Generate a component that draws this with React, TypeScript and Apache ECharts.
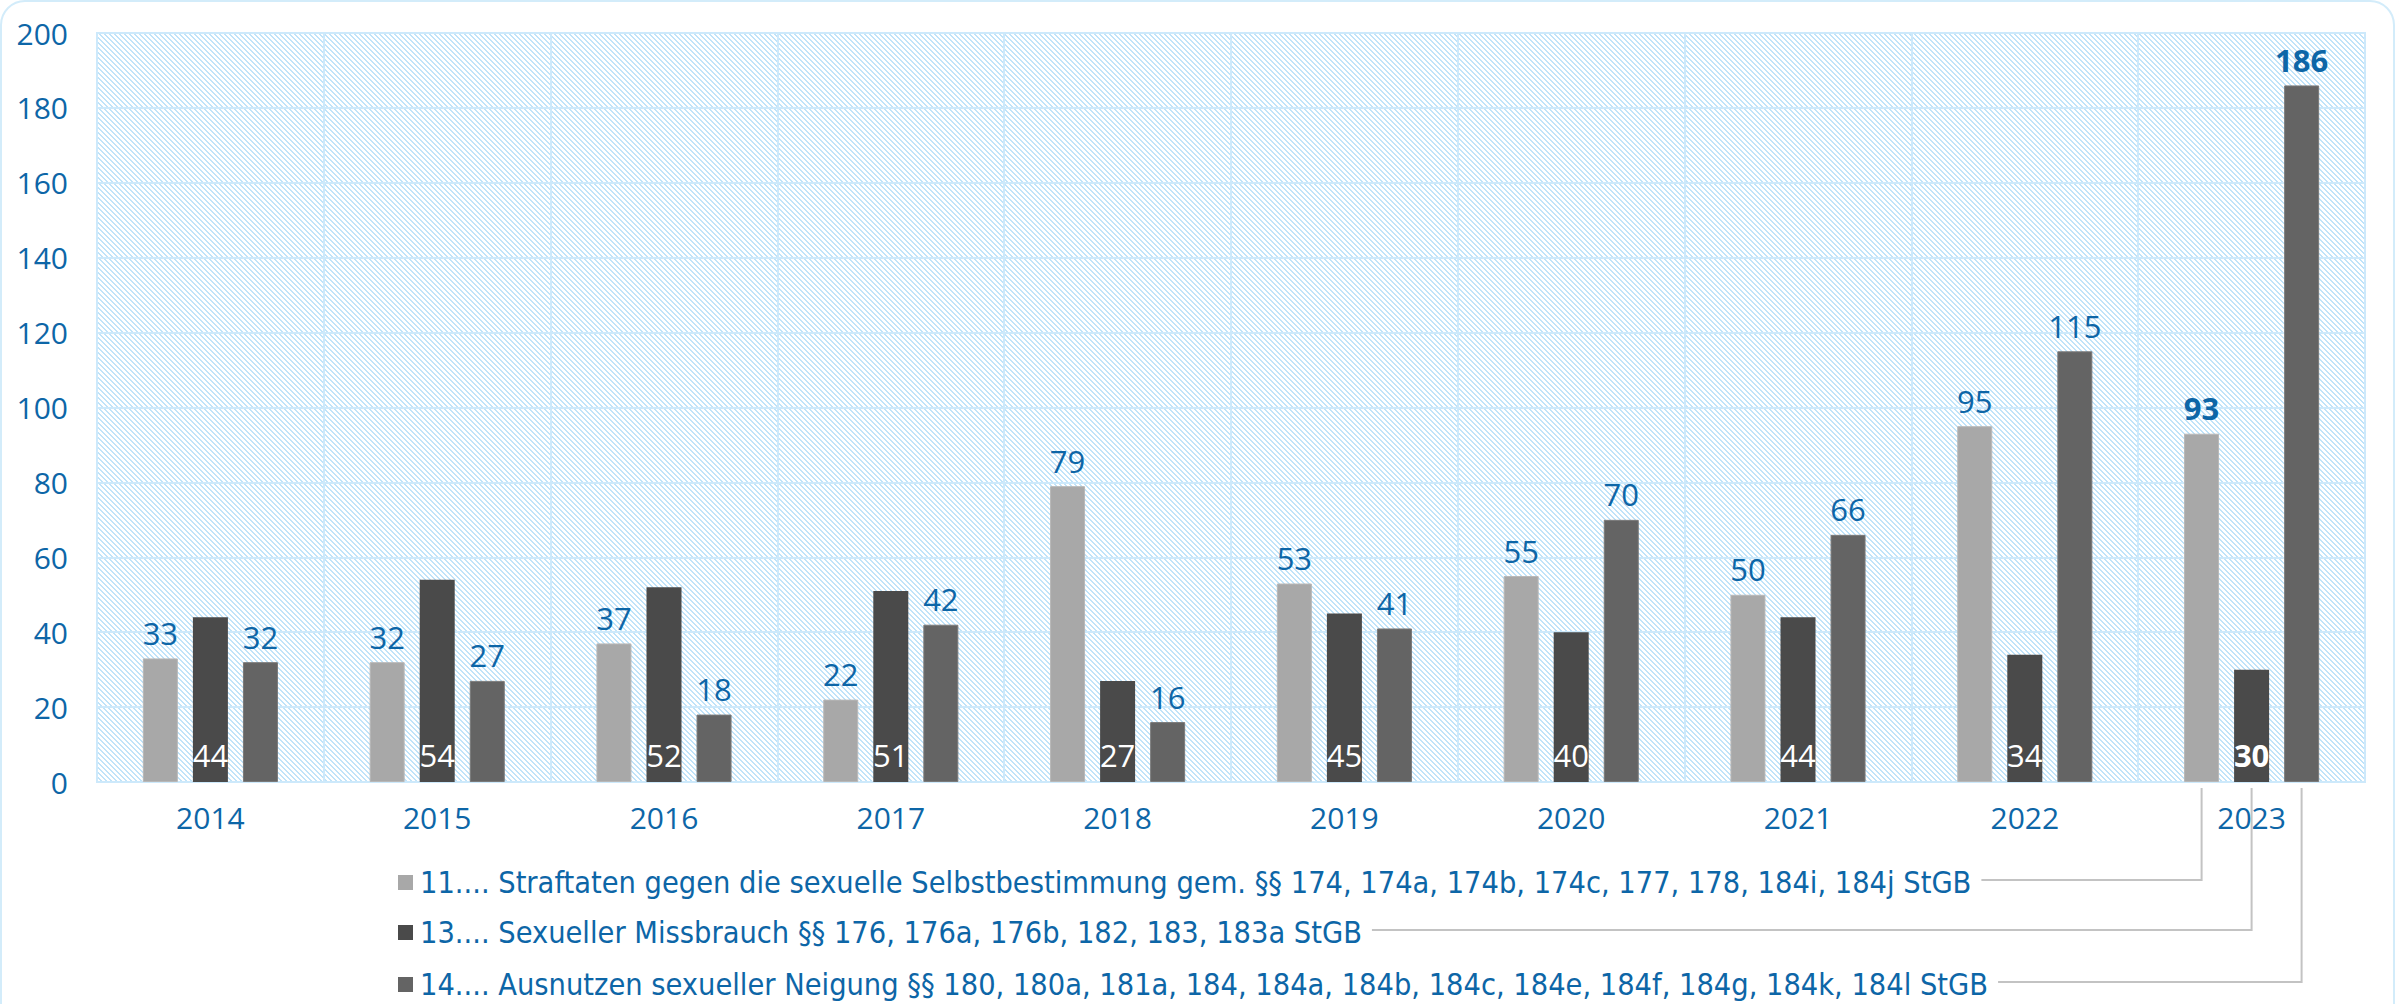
import React, { useEffect, useRef } from 'react';
import * as echarts from 'echarts';

const years = ['2014', '2015', '2016', '2017', '2018', '2019', '2020', '2021', '2022', '2023'];
const s11 = [33, 32, 37, 22, 79, 53, 55, 50, 95, 93];
const s13 = [44, 54, 52, 51, 27, 45, 40, 44, 34, 30];
const s14 = [32, 27, 18, 42, 16, 41, 70, 66, 115, 186];
const yTicks = { min: 0, max: 200, interval: 20 };
const legendNames = [
  '11.... Straftaten gegen die sexuelle Selbstbestimmung gem. §§ 174, 174a, 174b, 174c, 177, 178, 184i, 184j StGB',
  '13.... Sexueller Missbrauch §§ 176, 176a, 176b, 182, 183, 183a StGB',
  '14.... Ausnutzen sexueller Neigung §§ 180, 180a, 181a, 184, 184a, 184b, 184c, 184e, 184f, 184g, 184k, 184l StGB',
];
const colors = ['#a8a8a8', '#4a4a4a', '#646464'];

const BLUE = '#0d66a7';
const GRIDC = '#cde9fb';
const NUMFONT = '"Open Sans", "Noto Sans", sans-serif';
const LEGFONT = '"Liberation Sans Narrow", "DejaVu Sans Condensed", "Open Sans", sans-serif';

export default function App() {
  const ref = useRef<HTMLDivElement>(null);
  useEffect(() => {
    document.body.style.margin = '0';
    const chart = echarts.init(ref.current!, null, { renderer: 'svg' });

    const T = 5;
    const tile = document.createElement('canvas');
    tile.width = T;
    tile.height = T;
    const ctx = tile.getContext('2d')!;
    ctx.fillStyle = '#ffffff';
    ctx.fillRect(0, 0, T, T);
    ctx.fillStyle = '#c0e3f9';
    for (let i = 0; i < T; i++) {
      ctx.fillRect(i, i, 1, 1);
      ctx.fillRect((i + 1) % T, i, 1, 1);
    }
    const pattern = { image: tile.toDataURL(), repeat: 'repeat' };

    const lastBold = (arr: number[]) =>
      arr.map((v, i) => (i === arr.length - 1 ? { value: v, label: { fontWeight: 'bold' } } : v));

    const barBase = {
      type: 'bar',
      barWidth: 35,
      barGap: '43%',
    };

    chart.setOption({
      animation: false,
      grid: {
        left: 97,
        right: 32,
        top: 33,
        bottom: 222,
        show: true,
        backgroundColor: pattern,
        borderColor: GRIDC,
        borderWidth: 2,
      },
      xAxis: {
        type: 'category',
        data: years,
        axisLine: { lineStyle: { color: GRIDC, width: 2 } },
        axisTick: { show: false },
        splitLine: { show: true, interval: 0, lineStyle: { color: GRIDC, width: 2 } },
        axisLabel: { color: BLUE, fontSize: 30, fontFamily: NUMFONT, margin: 20 },
      },
      yAxis: {
        type: 'value',
        min: yTicks.min,
        max: yTicks.max,
        interval: yTicks.interval,
        axisLine: { show: false },
        axisTick: { show: false },
        splitLine: { lineStyle: { color: GRIDC, width: 2 } },
        axisLabel: { color: BLUE, fontSize: 30, fontFamily: NUMFONT, margin: 29 },
      },
      series: [
        {
          ...barBase,
          name: legendNames[0],
          data: lastBold(s11),
          itemStyle: { color: colors[0], borderColor: '#b8b8b8', borderWidth: 1 },
          label: { show: true, position: 'top', distance: 10, color: BLUE, fontSize: 31, fontFamily: NUMFONT },
        },
        {
          ...barBase,
          name: legendNames[1],
          data: lastBold(s13),
          itemStyle: { color: colors[1] },
          label: { show: true, position: 'insideBottom', distance: 12, color: '#ffffff', fontSize: 31, fontFamily: NUMFONT },
        },
        {
          ...barBase,
          name: legendNames[2],
          data: lastBold(s14),
          itemStyle: { color: colors[2], borderColor: '#7a7a7a', borderWidth: 1 },
          label: { show: true, position: 'top', distance: 10, color: BLUE, fontSize: 31, fontFamily: NUMFONT },
        },
      ],
    });

    // Legend with connectors to the 2023 bars
    const mctx = document.createElement('canvas').getContext('2d')!;
    const textX = 420;
    const targetEnd = 1972;
    mctx.font = `30px ${LEGFONT}`;
    const w0 = mctx.measureText(legendNames[0]).width;
    const legFontSize = Math.min(36, Math.max(26, (30 * (targetEnd - textX)) / w0));
    mctx.font = `${legFontSize}px ${LEGFONT}`;
    const center = chart.convertToPixel({ xAxisIndex: 0 }, years[years.length - 1]) as number;
    const barOffsets = [-50, 0, 50];
    const baseY = chart.convertToPixel({ yAxisIndex: 0 }, 0) as number;
    const rowY = [882, 932, 984];
    const graphics: any[] = [
      {
        type: 'rect',
        shape: { x: 1, y: 1, width: 2393, height: 1200, r: 24 },
        style: { fill: 'none', stroke: '#d3ecfa', lineWidth: 2 },
        silent: true,
        z: -10,
      },
    ];
    legendNames.forEach((name, i) => {
      const y = rowY[i];
      const w = mctx.measureText(name).width;
      const bx = center + barOffsets[i];
      graphics.push({
        type: 'rect',
        shape: { x: 398, y: y - 7, width: 15, height: 15 },
        style: { fill: colors[i] },
      });
      graphics.push({
        type: 'text',
        x: textX,
        y: y,
        style: {
          text: name,
          fill: BLUE,
          fontSize: legFontSize,
          fontFamily: LEGFONT,
          verticalAlign: 'middle',
          align: 'left',
        },
      });
      graphics.push({
        type: 'polyline',
        shape: {
          points: [
            [textX + w + 10, y - 2],
            [bx, y - 2],
            [bx, baseY + 6],
          ],
        },
        style: { stroke: '#c3c3c3', lineWidth: 2, fill: 'none' },
      });
    });
    chart.setOption({ graphic: graphics });

    return () => chart.dispose();
  }, []);
  return <div ref={ref} style={{ width: 2397, height: 1004 }} />;
}
